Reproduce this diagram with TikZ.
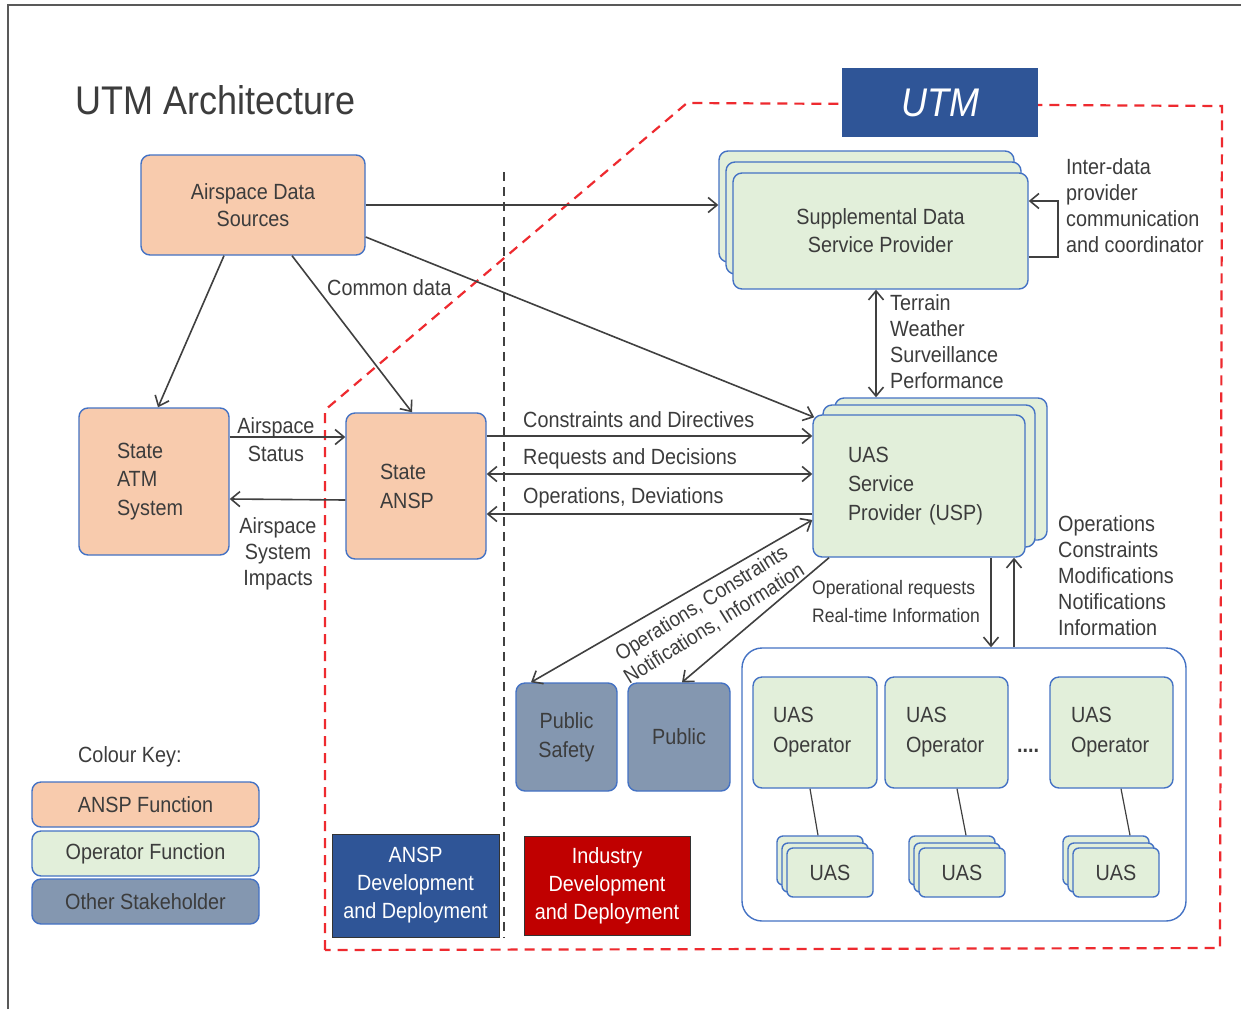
\documentclass[tikz,border=0pt]{standalone}
\usepackage{fontspec}
\setmainfont{Liberation Sans}[FakeStretch=0.9]
\usetikzlibrary{arrows.meta}
\definecolor{peach}{HTML}{F8CBAD}
\definecolor{pale}{HTML}{E2EFDA}
\definecolor{slate}{HTML}{8497B0}
\definecolor{bblue}{HTML}{4472C4}
\definecolor{dblue}{HTML}{2F5597}
\definecolor{dred}{HTML}{C00000}
\definecolor{rdash}{HTML}{EE2A2F}
\definecolor{tgray}{HTML}{3C3C3C}
\definecolor{agray}{HTML}{404040}
\newcommand{\nrmf}{\fontsize{22}{27}\selectfont}
\newcommand{\lblf}{\fontsize{22}{26}\selectfont}
\newcommand{\smlf}{\fontsize{19.5}{28}\selectfont}
\begin{document}
\begin{tikzpicture}[x=1pt,y=-1pt,
  box/.style={draw=bblue, line width=1.4pt, rounded corners=9pt, inner sep=0pt, text=tgray, font=\nrmf, align=center},
  anspbox/.style={box, fill=peach},
  operbox/.style={box, fill=pale},
  otherbox/.style={box, fill=slate},
  solidbox/.style={draw=black!80, line width=1pt, inner sep=0pt, text=white, font=\fontsize{22}{28}\selectfont, align=center},
  lbl/.style={text=tgray, font=\lblf, inner sep=0pt},
  arr/.style={draw=agray, line width=1.6pt, -{Straight Barb[length=9pt,width=15pt]}},
  darr/.style={draw=agray, line width=1.6pt, {Straight Barb[length=9pt,width=15pt]}-{Straight Barb[length=9pt,width=15pt]}},
  link/.style={draw=agray, line width=1.2pt},
  sz/.style 2 args={minimum width=#1, minimum height=#2},
]
\useasboundingbox (0,0) rectangle (1241,1009);
\fill[white] (0,0) rectangle (1241,1009);
% frame
\draw[black!65, line width=1.5pt] (8,1009) -- (8,5) -- (1241,5);

% UTM red dashed boundary
\draw[rdash, line width=2.2pt, dash pattern=on 10pt off 7pt] (325,950) -- (325,410) -- (687,103) -- (1222,106) -- (1220,948) -- cycle;
% ANSP / industry divider
\draw[agray, line width=2pt, dash pattern=on 9pt off 6pt] (504,172) -- (504,938);

% title
\node[lbl, anchor=base west, font=\fontsize{40}{44}\selectfont] (title) at (75,114) {UTM Architecture};
\node[fill=dblue, sz={196pt}{69pt}, inner sep=0pt, text=white, font=\fontsize{40}{44}\selectfont\itshape] (utm) at (940,102.5) {UTM};

% ANSP side
\node[anspbox, sz={224pt}{100pt}] (ads) at (253,205) {Airspace Data\\Sources};
\node[anspbox, sz={150pt}{147pt}, align=left, text width=74pt, font=\fontsize{22}{28.5}\selectfont] (atm) at (154,481.5) {State\\ATM\\System};
\node[anspbox, sz={140pt}{146pt}, align=left, text width=72pt, font=\fontsize{22}{29}\selectfont] (ansp) at (416,486) {State\\ANSP};

% SDSP stack
\node[operbox, sz={295pt}{111pt}] (sdsp3) at (866.5,206.5) {};
\node[operbox, sz={295pt}{112pt}] (sdsp2) at (873.5,218) {};
\node[operbox, sz={295pt}{116pt}, font=\fontsize{22}{28}\selectfont] (sdsp) at (880.5,231) {Supplemental Data\\Service Provider};

% USP stack
\node[operbox, sz={212pt}{142pt}] (usp3) at (941,469) {};
\node[operbox, sz={212pt}{142pt}] (usp2) at (929,476) {};
\node[operbox, sz={212pt}{142pt}, align=left, text width=142pt, font=\fontsize{22}{29}\selectfont] (usp) at (919,486) {UAS\\Service\\Provider (USP)};

% other stakeholders
\node[otherbox, sz={101pt}{108pt}, font=\fontsize{22}{29}\selectfont] (ps) at (566.5,737) {Public\\Safety};
\node[otherbox, sz={102pt}{108pt}] (pub) at (679,737) {Public};

% operator group
\node[draw=bblue, line width=1.4pt, rounded corners=20pt, fill=white, sz={444pt}{273pt}] (grp) at (964,784.5) {};
\node[operbox, sz={124pt}{111pt}, align=left, text width=84pt, font=\fontsize{22}{30}\selectfont] (op1) at (815,732.5) {UAS\\Operator};
\node[operbox, sz={123pt}{111pt}, align=left, text width=81pt, font=\fontsize{22}{30}\selectfont] (op2) at (946.5,732.5) {UAS\\Operator};
\node[operbox, sz={123pt}{111pt}, align=left, text width=81pt, font=\fontsize{22}{30}\selectfont] (op3) at (1111.5,732.5) {UAS\\Operator};
\node[lbl, anchor=base, font=\fontsize{22}{27}\selectfont\bfseries] (dots) at (1028,752) {....};

\foreach \n/\cx in {1/830, 2/962, 3/1116} {
  \node[operbox, rounded corners=6pt, sz={86pt}{49pt}] (uas\n c) at (\cx-10,860.5) {};
  \node[operbox, rounded corners=6pt, sz={86pt}{49pt}] (uas\n b) at (\cx-5,867.5) {};
  \node[operbox, rounded corners=6pt, sz={86pt}{49pt}] (uas\n) at (\cx,872.5) {UAS};
}

% development boxes
\node[solidbox, fill=dblue, sz={167pt}{103pt}] (andd) at (415.5,885.5) {ANSP\\Development\\and Deployment};
\node[solidbox, fill=dred, sz={166pt}{99pt}] (indd) at (607,885.5) {Industry\\Development\\and Deployment};

% colour key
\node[lbl, anchor=base west] (keyt) at (78,762) {Colour Key:};
\node[anspbox, sz={227pt}{45pt}] (k1) at (145.5,804.5) {ANSP Function};
\node[operbox, sz={227pt}{45pt}] (k2) at (145.5,853.5) {Operator Function};
\node[otherbox, sz={227pt}{45pt}] (k3) at (145.5,901.5) {Other Stakeholder};

% connectors
\draw[arr] (ads.east |- 0,205) -- (sdsp3.west |- 0,205);
\draw[arr] (ads.east |- 0,237) -- ([shift={(2,3)}]usp.north west);
\draw[arr] (ads.south -| 224,0) -- (atm.north -| 158,0);
\draw[arr] (ads.south -| 292,0) -- (ansp.north -| 412,0);
\draw[arr] (atm.east |- 0,437) -- (ansp.west |- 0,437);
\draw[arr] (ansp.west |- 0,500) -- (atm.east |- 0,499);
\draw[arr] (ansp.east |- 0,436) -- (usp.west |- 0,436);
\draw[darr] (ansp.east |- 0,474) -- (usp.west |- 0,474);
\draw[arr] (usp.west |- 0,514) -- (ansp.east |- 0,514);
\draw[darr] (sdsp.south -| 876,0) -- (usp3.north -| 876,0);
\draw[arr] (sdsp.east |- 0,257) -- ++(29,0) |- (sdsp.east |- 0,201);
\draw[darr] (usp.west |- 0,520) -- (ps.north -| 531,0);
\draw[arr] (usp.south -| 829,0) -- (pub.north -| 682,0);
\draw[arr] (usp.south -| 991,0) -- (grp.north -| 991,0);
\draw[arr] (grp.north -| 1014,0) -- (usp.south -| 1014,0);
\draw[link] (op1.south -| 810,0) -- (uas1c.north -| 818,0);
\draw[link] (op2.south -| 957,0) -- (uas2c.north -| 966,0);
\draw[link] (op3.south -| 1121,0) -- (uas3c.north -| 1130,0);

% labels (multi-line labels anchored at the baseline of their last line)
\node[lbl, anchor=base west] (lcd) at (327,295) {Common data};
\node[lbl, anchor=base, align=center, font=\fontsize{22}{28}\selectfont] (las) at (276,461) {Airspace\\Status};
\node[lbl, anchor=base, align=center] (lasi) at (278,585) {Airspace\\System\\Impacts};
\node[lbl, anchor=base west] (lcdir) at (523,427) {Constraints and Directives};
\node[lbl, anchor=base west] (lrd) at (523,464) {Requests and Decisions};
\node[lbl, anchor=base west] (lod) at (523,503) {Operations, Deviations};
\node[lbl, anchor=base west, align=left] (linter) at (1066,252) {Inter-data\\provider\\communication\\and coordinator};
\node[lbl, anchor=base west, align=left] (lterr) at (890,388) {Terrain\\Weather\\Surveillance\\Performance};
\node[lbl, anchor=base west, align=left, font=\smlf] (lopr) at (812,622) {Operational requests\\Real-time Information};
\node[lbl, anchor=base west, align=left] (lops) at (1058,635) {Operations\\Constraints\\Modifications\\Notifications\\Information};
\node[lbl, rotate=32, align=center, font=\fontsize{21}{24}\selectfont] (lrot) at (708,614) {Operations, Constraints\\Notifications, Information};
\end{tikzpicture}
\end{document}
